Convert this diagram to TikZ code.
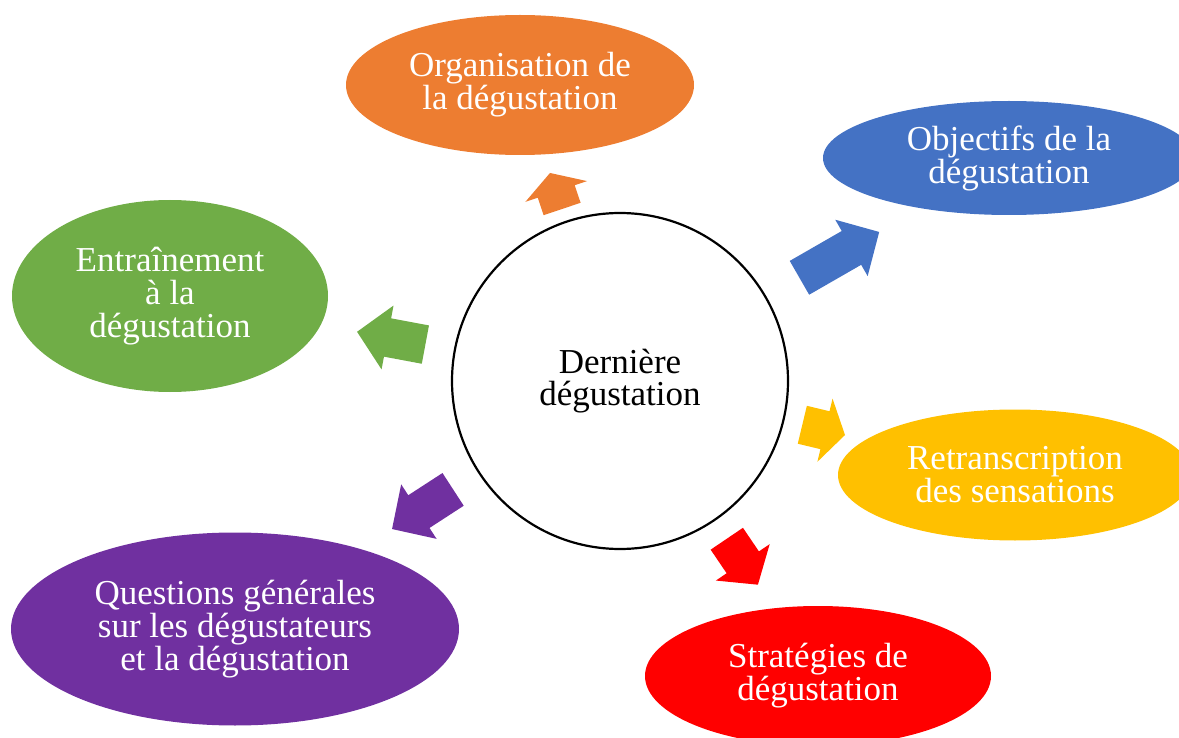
\documentclass[tikz,border=0pt]{standalone}
\usepackage{fontspec}
\setmainfont{Liberation Serif}
\usetikzlibrary{shapes.geometric}
\definecolor{cOrange}{HTML}{ED7D31}
\definecolor{cBlue}{HTML}{4472C4}
\definecolor{cGreen}{HTML}{70AD47}
\definecolor{cYellow}{HTML}{FFC000}
\definecolor{cPurple}{HTML}{7030A0}
\definecolor{cRed}{HTML}{FF0000}
\tikzset{
  bubble/.style={ellipse, inner sep=0pt, text=white, align=center,
    font=\fontsize{35}{33}\selectfont},
  hub/.style={circle, draw=black, line width=2.2pt, fill=white, minimum size=336pt,
    inner sep=0pt, align=center, font=\fontsize{35}{32}\selectfont},
}
\newcommand\blockarr[5]{%
  \begin{scope}[shift={(c.center)}, rotate=#1]
    \fill[#5] (#2,-19.5) -- ({#3-#4},-19.5) -- ({#3-#4},-32.5) -- (#3,0)
      -- ({#3-#4},32.5) -- ({#3-#4},19.5) -- (#2,19.5) -- cycle;
  \end{scope}}
\begin{document}
\begin{tikzpicture}[x=1pt,y=1pt]
\useasboundingbox (0,0) rectangle (1179,-738);
\node[hub] (c) at (620,-381) {Dernière\\dégustation};
\node[bubble, fill=cOrange, minimum width=348pt, minimum height=140pt] (org) at (520,-85) {Organisation de\\la dégustation};
\node[bubble, fill=cBlue, minimum width=372pt, minimum height=114pt] (obj) at (1009,-158) {Objectifs de la\\dégustation};
\node[bubble, fill=cGreen, minimum width=316pt, minimum height=192pt] (ent) at (170,-296) {Entraînement\\à la\\dégustation};
\node[bubble, fill=cYellow, minimum width=354pt, minimum height=131pt] (ret) at (1015,-475) {Retranscription\\des sensations};
\node[bubble, fill=cPurple, minimum width=448pt, minimum height=193pt] (que) at (235,-629) {Questions générales\\sur les dégustateurs\\et la dégustation};
\node[bubble, fill=cRed, minimum width=346pt, minimum height=140pt] (str) at (818,-676) {Stratégies de\\dégustation};
\blockarr{108.6}{181.5}{219.5}{19.5}{cOrange}
\blockarr{29.9}{207}{299}{32}{cBlue}
\blockarr{169.4}{198}{267.5}{31}{cGreen}
\blockarr{-13.5}{187.5}{231.4}{20.6}{cYellow}
\blockarr{213}{199}{271.8}{32}{cPurple}
\blockarr{-55.9}{190.5}{246}{27}{cRed}
\end{tikzpicture}
\end{document}
